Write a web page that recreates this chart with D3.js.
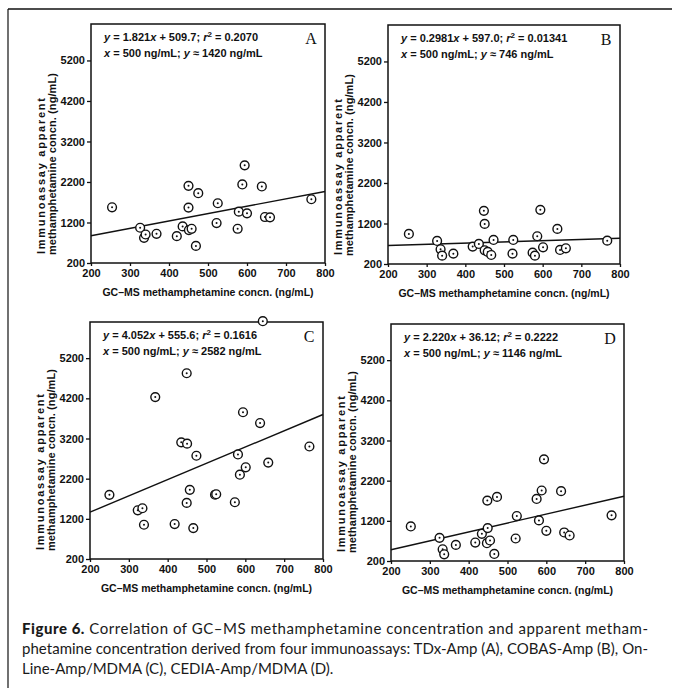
<!DOCTYPE html>
<html>
<head>
<meta charset="utf-8">
<script src="https://cdn.jsdelivr.net/npm/d3@7"></script>
<style>
  html, body { margin: 0; padding: 0; background: #fff; }
  svg { display: block; }
</style>
</head>
<body>
<svg id="chart" width="675" height="688"></svg>
<script>
// ---------- DATA ----------
const xTickValues = [200, 300, 400, 500, 600, 700, 800];
const yTickValues = [200, 1200, 2200, 3200, 4200, 5200];

// Panel A: TDx-Amp
const gcmsA  = [254, 326, 336, 340, 368, 420, 435, 450, 450, 451, 458, 469, 475, 522, 525, 576, 579, 588, 594, 600, 638, 646, 659, 765];
const assayA = [1575, 1070, 821, 904, 921, 863, 1103, 2105, 1567, 1012, 1045, 622, 1923, 1186, 1675, 1045, 1468, 2139, 2611, 1426, 2089, 1335, 1327, 1774];
// Panel B: COBAS-Amp
const gcmsB  = [254, 327, 336, 340, 369, 419, 435, 448, 450, 450, 458, 467, 473, 522, 524, 574, 580, 586, 594, 601, 638, 645, 660, 767];
const assayB = [942, 769, 563, 406, 456, 629, 695, 1512, 1190, 538, 497, 422, 794, 456, 794, 480, 406, 885, 1537, 612, 1066, 547, 588, 777];
// Panel C: On-Line-Amp/MDMA
const gcmsC  = [250, 323, 335, 339, 368, 418, 435, 449, 450, 449, 457, 466, 474, 522, 525, 573, 581, 586, 594, 601, 638, 645, 659, 765];
const assayC = [1797, 1412, 1463, 1053, 4230, 1070, 3104, 4824, 3071, 1596, 1922, 969, 2770, 1800, 1812, 1613, 2803, 2298, 3853, 2483, 3585, 6120, 2600, 3001];
// Panel D: CEDIA-Amp/MDMA
const gcmsD  = [251, 325, 333, 337, 367, 417, 434, 448, 449, 447, 455, 466, 473, 521, 524, 575, 581, 588, 594, 600, 638, 646, 660, 768];
const assayD = [1060, 776, 492, 367, 601, 659, 877, 1704, 1019, 643, 710, 375, 1796, 760, 1319, 1745, 1211, 1955, 2731, 952, 1939, 910, 835, 1336];

const panelLetters = ["A", "B", "C", "D"];
const slopes      = [1.821, 0.2981, 4.052, 2.220];
const intercepts  = [509.7, 597.0, 555.6, 36.12];
const slopeText   = ["1.821", "0.2981", "4.052", "2.220"];
const interText   = ["509.7", "597.0", "555.6", "36.12"];
const r2Text      = ["0.2070", "0.01341", "0.1616", "0.2222"];
const yAt500Text  = ["1420", "746", "2582", "1146"];

const xDomain = [200, 800];
const yDomain = [200, 6100];

const xTitle = "GC\u2013MS methamphetamine concn. (ng/mL)";
const yTitle1 = "Immunoassay apparent";
const yTitle2 = "methamphetamine concn. (ng/mL)";

const captionLines = [
  ["Figure 6.", " Correlation of GC\u2013MS methamphetamine concentration and apparent metham-"],
  ["", "phetamine concentration derived from four immunoassays: TDx-Amp (A), COBAS-Amp (B), On-"],
  ["", "Line-Amp/MDMA (C), CEDIA-Amp/MDMA (D)."]
];

// ---------- LAYOUT ----------
const panels = [
  { left: 91,  right: 325, top: 24,  bottom: 263, xs: gcmsA, ys: assayA },
  { left: 388, right: 620, top: 25,  bottom: 264, xs: gcmsB, ys: assayB },
  { left: 90,  right: 323, top: 322, bottom: 559, xs: gcmsC, ys: assayC },
  { left: 391, right: 624, top: 324, bottom: 561, xs: gcmsD, ys: assayD }
];

const svg = d3.select("#chart");
const ink = "#111";
const sans = "'Liberation Sans', Arial, Helvetica, sans-serif";

// outer frame (top and left rules)
svg.append("line").attr("x1", 8).attr("x2", 672).attr("y1", 9).attr("y2", 9)
  .attr("stroke", ink).attr("stroke-width", 1.6);
svg.append("line").attr("x1", 8).attr("x2", 8).attr("y1", 9).attr("y2", 688)
  .attr("stroke", ink).attr("stroke-width", 1.2);

panels.forEach((p, i) => {
  const x = d3.scaleLinear().domain(xDomain).range([p.left, p.right]);
  const y = d3.scaleLinear().domain(yDomain).range([p.bottom, p.top]);
  const g = svg.append("g");

  // plot box
  g.append("rect")
    .attr("x", p.left).attr("y", p.top)
    .attr("width", p.right - p.left).attr("height", p.bottom - p.top)
    .attr("fill", "none").attr("stroke", ink).attr("stroke-width", 1.5);

  // axes
  const xAxis = d3.axisBottom(x).tickValues(xTickValues).tickSize(3).tickPadding(3).tickFormat(d3.format("d"));
  const yAxis = d3.axisLeft(y).tickValues(yTickValues).tickSize(4).tickPadding(2).tickFormat(d3.format("d"));
  const gx = g.append("g").attr("transform", `translate(0,${p.bottom})`).call(xAxis);
  const gy = g.append("g").attr("transform", `translate(${p.left},0)`).call(yAxis);
  [gx, gy].forEach(a => {
    a.select(".domain").remove();
    a.selectAll(".tick line").attr("stroke", ink).attr("stroke-width", 1.3);
    a.selectAll(".tick text").attr("fill", ink).attr("font-family", sans)
      .attr("font-size", 11).attr("font-weight", "bold");
  });
  gx.selectAll(".tick text").attr("dy", "0.75em");

  // axis titles
  g.append("text")
    .attr("x", (p.left + p.right) / 2).attr("y", p.bottom + 33)
    .attr("text-anchor", "middle").attr("font-family", sans)
    .attr("font-size", 10.5).attr("font-weight", "bold").attr("fill", ink)
    .text(xTitle);
  g.append("text")
    .attr("transform", `translate(${p.left - 46},${p.bottom - 9}) rotate(-90)`)
    .attr("text-anchor", "start").attr("font-family", sans)
    .attr("font-size", 11).attr("font-weight", "bold").attr("fill", ink)
    .attr("textLength", 156).attr("lengthAdjust", "spacing")
    .text(yTitle1);
  g.append("text")
    .attr("transform", `translate(${p.left - 35},${p.bottom - 8}) rotate(-90)`)
    .attr("text-anchor", "start").attr("font-family", sans)
    .attr("font-size", 11).attr("font-weight", "bold").attr("fill", ink)
    .attr("textLength", 182).attr("lengthAdjust", "spacing")
    .text(yTitle2);

  // regression line
  g.append("line")
    .attr("x1", x(xDomain[0])).attr("y1", y(slopes[i] * xDomain[0] + intercepts[i]))
    .attr("x2", x(xDomain[1])).attr("y2", y(slopes[i] * xDomain[1] + intercepts[i]))
    .attr("stroke", ink).attr("stroke-width", 1.4);

  // points
  const pts = p.xs.map((v, k) => [v, p.ys[k]]);
  const mk = g.append("g").selectAll("g").data(pts).join("g")
    .attr("transform", d => `translate(${x(d[0])},${y(d[1])})`);
  mk.append("circle").attr("r", 4.4).attr("fill", "#fff")
    .attr("stroke", ink).attr("stroke-width", 1.4);
  mk.append("circle").attr("r", 1).attr("fill", ink);

  // equation text
  const eq = g.append("text")
    .attr("x", p.left + 13).attr("y", p.top + 17)
    .attr("font-family", sans).attr("font-size", 11).attr("font-weight", "bold").attr("fill", ink);
  eq.append("tspan").attr("font-style", "italic").text("y");
  eq.append("tspan").text(` = ${slopeText[i]}`);
  eq.append("tspan").attr("font-style", "italic").text("x");
  eq.append("tspan").text(` + ${interText[i]}; `);
  eq.append("tspan").attr("font-style", "italic").text("r");
  eq.append("tspan").attr("font-size", 8).attr("dy", -4).text("2");
  eq.append("tspan").attr("dy", 4).text(` = ${r2Text[i]}`);

  const eq2 = g.append("text")
    .attr("x", p.left + 13).attr("y", p.top + 33)
    .attr("font-family", sans).attr("font-size", 11).attr("font-weight", "bold").attr("fill", ink);
  eq2.append("tspan").attr("font-style", "italic").text("x");
  eq2.append("tspan").text(" = 500 ng/mL; ");
  eq2.append("tspan").attr("font-style", "italic").text("y");
  eq2.append("tspan").text(` \u2248 ${yAt500Text[i]} ng/mL`);

  // panel letter
  g.append("text")
    .attr("x", p.right - 14).attr("y", p.top + 20)
    .attr("text-anchor", "middle")
    .attr("font-family", "'Liberation Serif', 'Times New Roman', serif")
    .attr("font-size", 16).attr("fill", ink)
    .text(panelLetters[i]);
});

// caption
const capFont = "Lato, 'Open Sans', sans-serif";
const capY = [634, 654, 674];
captionLines.forEach((ln, k) => {
  const t = svg.append("text")
    .attr("x", 22).attr("y", capY[k])
    .attr("font-family", capFont).attr("font-size", 15).attr("fill", "#1a1a1a");
  if (ln[0]) t.append("tspan").attr("font-weight", "900").text(ln[0]);
  t.append("tspan").text(ln[1]);
  if (k < 2) t.attr("textLength", 626).attr("lengthAdjust", "spacing");
});
</script>
</body>
</html>
